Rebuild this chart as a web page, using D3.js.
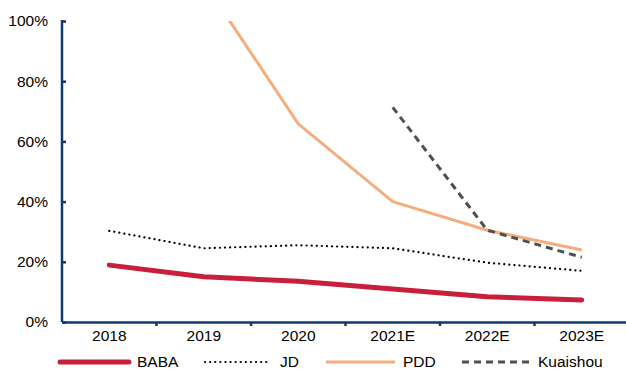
<!DOCTYPE html>
<html>
<head>
<meta charset="utf-8">
<script src="https://cdn.jsdelivr.net/npm/d3@7"></script>
<style>
  body { margin: 0; background: #fff; }
  svg { display: block; font-family: "Liberation Sans", Arial, sans-serif; }
</style>
</head>
<body>
<svg id="chart" width="626" height="369"></svg>
<script>
// categories and series (share of 100%)
var years = ["2018", "2019", "2020", "2021E", "2022E", "2023E"];
var baba = [18.9, 15.0, 13.5, 11.0, 8.4, 7.3];
var jd = [30.3, 24.5, 25.5, 24.5, 19.7, 17.0];
var pdd = [null, 113, 65.8, 40.0, 30.5, 23.9];
var kuaishou = [null, null, null, 71.3, 30.5, 21.5];
var yTicks = [0, 20, 40, 60, 80, 100];

var series = [
  {name: "BABA", values: baba, color: "#c8203c", width: 5, dash: null, cap: "round"},
  {name: "JD", values: jd, color: "#000000", width: 2.2, dash: "0.1,5", cap: "round"},
  {name: "PDD", values: pdd, color: "#f4ad7c", width: 3, dash: null, cap: "butt"},
  {name: "Kuaishou", values: kuaishou, color: "#505050", width: 3, dash: "7,5", cap: "butt"}
];

var svg = d3.select("#chart");
var plotLeft = 62, plotTop = 21, plotBottom = 322, plotRight = 629;
var axisColor = "#0d3b6e";
var fontSize = "15.5px";

var x = d3.scaleBand().domain(years).range([plotLeft, plotRight]);
var y = d3.scaleLinear().domain([0, 100]).range([plotBottom, plotTop]);

svg.append("defs").append("clipPath").attr("id", "plot")
  .append("rect").attr("x", plotLeft).attr("y", plotTop)
  .attr("width", plotRight - plotLeft).attr("height", plotBottom - plotTop);

// lines
var line = d3.line()
  .defined(function(d){ return d != null; })
  .x(function(d, i){ return x(years[i]) + x.bandwidth() / 2; })
  .y(function(d){ return y(d); });

var g = svg.append("g").attr("clip-path", "url(#plot)");
series.forEach(function(s){
  g.append("path")
    .attr("d", line(s.values))
    .attr("fill", "none")
    .attr("stroke", s.color)
    .attr("stroke-width", s.width)
    .attr("stroke-dasharray", s.dash)
    .attr("stroke-linecap", s.cap)
    .attr("stroke-linejoin", "round");
});

// y axis
var yAxis = svg.append("g").attr("transform", "translate(" + plotLeft + ",0)")
  .call(d3.axisRight(y).tickValues(yTicks).tickSize(4).tickFormat(function(d){ return d + "%"; }));
yAxis.select(".domain").attr("stroke", axisColor).attr("stroke-width", 2.5)
  .attr("d", "M0," + (plotTop - 1) + "V" + plotBottom);
yAxis.selectAll(".tick line").attr("stroke", axisColor).attr("stroke-width", 2.5);
yAxis.selectAll(".tick text")
  .attr("x", -14).attr("text-anchor", "end")
  .attr("fill", "#000").style("font-size", fontSize);

// x axis
var xAxis = svg.append("g").attr("transform", "translate(0," + plotBottom + ")")
  .call(d3.axisBottom(x).tickSize(0));
xAxis.select(".domain").attr("stroke", axisColor).attr("stroke-width", 2.5);
xAxis.selectAll(".tick text").attr("y", 8).attr("dy", "0.71em")
  .attr("fill", "#000").style("font-size", fontSize);
// category separators
xAxis.selectAll(".sep").data(years.slice(1)).enter().append("line")
  .attr("x1", function(d){ return x(d); }).attr("x2", function(d){ return x(d); })
  .attr("y1", 0).attr("y2", 4)
  .attr("stroke", axisColor).attr("stroke-width", 2.5);

// legend
var legendX = [60, 205, 326, 462];
var legend = svg.append("g");
series.forEach(function(s, i){
  var lg = legend.append("g").attr("transform", "translate(" + legendX[i] + ",362)");
  lg.append("line").attr("x1", 0).attr("x2", i === 1 ? 65 : 69).attr("y1", 0).attr("y2", 0)
    .attr("stroke", s.color).attr("stroke-width", s.width)
    .attr("stroke-dasharray", s.dash).attr("stroke-linecap", s.cap);
  lg.append("text").attr("x", i === 1 ? 75 : (i === 3 ? 76 : 77)).attr("y", 5)
    .style("font-size", fontSize).attr("fill", "#000").text(s.name);
});
</script>
</body>
</html>
